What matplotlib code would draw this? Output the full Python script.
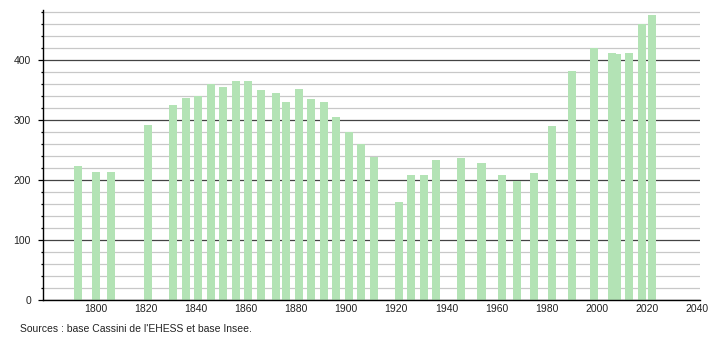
import matplotlib
matplotlib.use("Agg")
import matplotlib.pyplot as plt
from matplotlib.ticker import MultipleLocator

years = [1793, 1800, 1806, 1821, 1831, 1836, 1841, 1846, 1851, 1856,
         1861, 1866, 1872, 1876, 1881, 1886, 1891, 1896, 1901, 1906,
         1911, 1921, 1926, 1931, 1936, 1946, 1954, 1962, 1968, 1975,
         1982, 1990, 1999, 2006, 2008, 2013, 2018, 2022]
population = [223, 214, 213, 291, 324, 337, 340, 360, 355, 365,
              365, 350, 345, 329, 352, 334, 330, 304, 280, 260,
              238, 163, 208, 208, 234, 236, 228, 208, 198, 212,
              289, 382, 419, 411, 409, 412, 459, 474]
x_ticks = list(range(1800, 2041, 20))
y_ticks = [0, 100, 200, 300, 400]
source = "Sources : base Cassini de l'EHESS et base Insee."

plt.rcParams['font.family'] = ['Liberation Sans', 'DejaVu Sans']

fig = plt.figure(figsize=(7.1, 3.4), dpi=100)
ax = fig.add_axes([43 / 710, 1 - 300 / 340, 657 / 710, 290 / 340])

# grid: light every 20, dark every 100
ax.yaxis.set_minor_locator(MultipleLocator(20))
ax.set_yticks(y_ticks)
ax.grid(axis='y', which='minor', color='#c8c8c8', linewidth=0.9)
ax.grid(axis='y', which='major', color='#444444', linewidth=0.9)
ax.set_axisbelow(True)

ax.bar(years, population, width=3.2, color='#b3e3b5', zorder=2)

ax.set_xlim(1779, 2041.2)
ax.set_ylim(0, 483)
ax.set_xticks(x_ticks)

for side in ['top', 'right']:
    ax.spines[side].set_visible(False)
ax.spines['left'].set_linewidth(1)
ax.spines['bottom'].set_linewidth(1)
ax.spines['bottom'].set_zorder(3)

ax.tick_params(axis='y', which='major', length=3.6, width=0.9, pad=5,
               labelsize=7.5, labelcolor='#222222')
ax.tick_params(axis='y', which='minor', length=1.6, width=0.9)
ax.tick_params(axis='x', length=0, pad=3, labelsize=7.5, labelcolor='#222222')

fig.text(20 / 710, 1 - 329 / 340, source, fontsize=7.5, color='#222222',
         va='center', ha='left')

fig.savefig('out.png', dpi=100)
